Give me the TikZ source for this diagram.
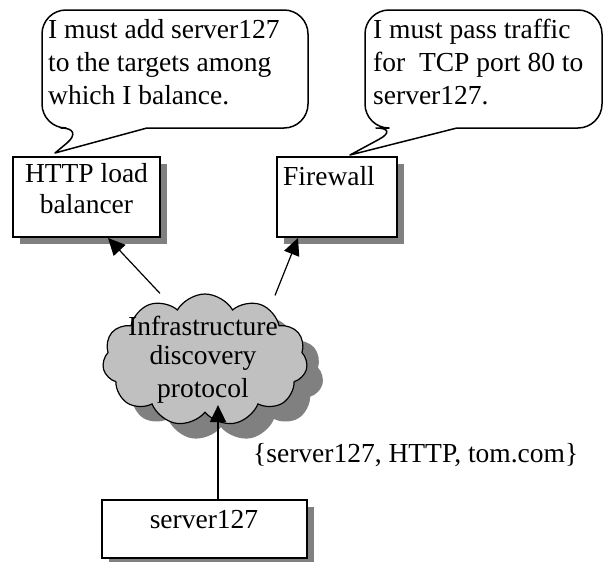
\documentclass[tikz,border=0pt]{standalone}
\usepackage{fontspec}
\setmainfont{Liberation Serif}
\usetikzlibrary{arrows.meta,shapes.symbols,shadows}
\definecolor{shadowgray}{HTML}{808080}
\definecolor{cloudgray}{HTML}{C0C0C0}
\begin{document}
\begin{tikzpicture}[x=1pt,y=-1pt,
  txt/.style={font=\fontsize{27.5}{33}\selectfont, inner sep=0pt},
  box/.style={draw, line width=2pt, fill=white,
    drop shadow={shadow xshift=7pt, shadow yshift=-7pt, fill=shadowgray, opacity=1}},
  bubble/.style={draw, line width=1.5pt, fill=white, line join=round},
  arr/.style={-{Triangle[length=17pt,width=16pt]}, line width=1.2pt}
]
\fill[white] (0,0) rectangle (603,562);
\useasboundingbox (0,0) rectangle (603,562);

% speech bubbles
\draw[bubble, rounded corners=24] (42,70) -- (42,128) -- (85,128)
   [sharp corners] -- (55,153) -- (147,128)
   [rounded corners=24] -- (308,128) -- (308,10) -- (42,10) -- cycle;
\node[txt, anchor=base west] (b1a) at (48,38) {I must add server127};
\node[txt, anchor=base west] (b1b) at (48,71) {to the targets among};
\node[txt, anchor=base west] (b1c) at (48,104) {which I balance.};

\draw[bubble, rounded corners=24] (365,70) -- (365,128) -- (400,128)
   [sharp corners] -- (350,155) -- (457,128)
   [rounded corners=24] -- (602,128) -- (602,10) -- (365,10) -- cycle;
\node[txt, anchor=base west] (b2a) at (373,38) {I must pass traffic};
\node[txt, anchor=base west] (b2b) at (373,71) {for~ TCP port 80 to};
\node[txt, anchor=base west] (b2c) at (373,104) {server127.};

% boxes
\node[box, minimum width=147pt, minimum height=80pt, inner sep=0pt] (http) at (86.5,197) {};
\node[txt, anchor=base] (httpa) at (86.5,182) {HTTP load};
\node[txt, anchor=base] (httpb) at (86.5,213) {balancer};

\node[box, minimum width=120pt, minimum height=80pt, inner sep=0pt] (firewall) at (337,197) {};
\node[txt, anchor=base west] (fwt) at (283,185) {Firewall};

\node[box, minimum width=205pt, minimum height=58pt, inner sep=0pt] (server) at (204.5,529) {};
\node[txt, anchor=base] (srvt) at (204,528) {server127};

% cloud
\node[cloud, cloud puffs=11, cloud puff arc=120, aspect=1.6,
      minimum width=205pt, minimum height=132pt, inner sep=0pt,
      draw, fill=cloudgray, line width=1.2pt,
      drop shadow={shadow xshift=16pt, shadow yshift=-15pt, fill=shadowgray, opacity=1}]
      (cloud) at (205,360) {};
\node[txt, anchor=base] (ct1) at (203,335) {Infrastructure};
\node[txt, anchor=base] (ct2) at (203,364) {discovery};
\node[txt, anchor=base] (ct3) at (203,397) {protocol};

% connectors
\draw[arr] ([xshift=-45pt]cloud.north) -- ([xshift=21.5pt]http.south);
\draw[arr] ([xshift=70pt,yshift=-2pt]cloud.north) -- ([xshift=-39pt]firewall.south);
\draw[arr, line width=1.8pt] ([xshift=13.5pt]server.north) -- ([xshift=13pt,yshift=8pt]cloud.south);

\node[txt, anchor=base west] (lbl) at (253,462) {\{server127, HTTP, tom.com\}};
\end{tikzpicture}
\end{document}
